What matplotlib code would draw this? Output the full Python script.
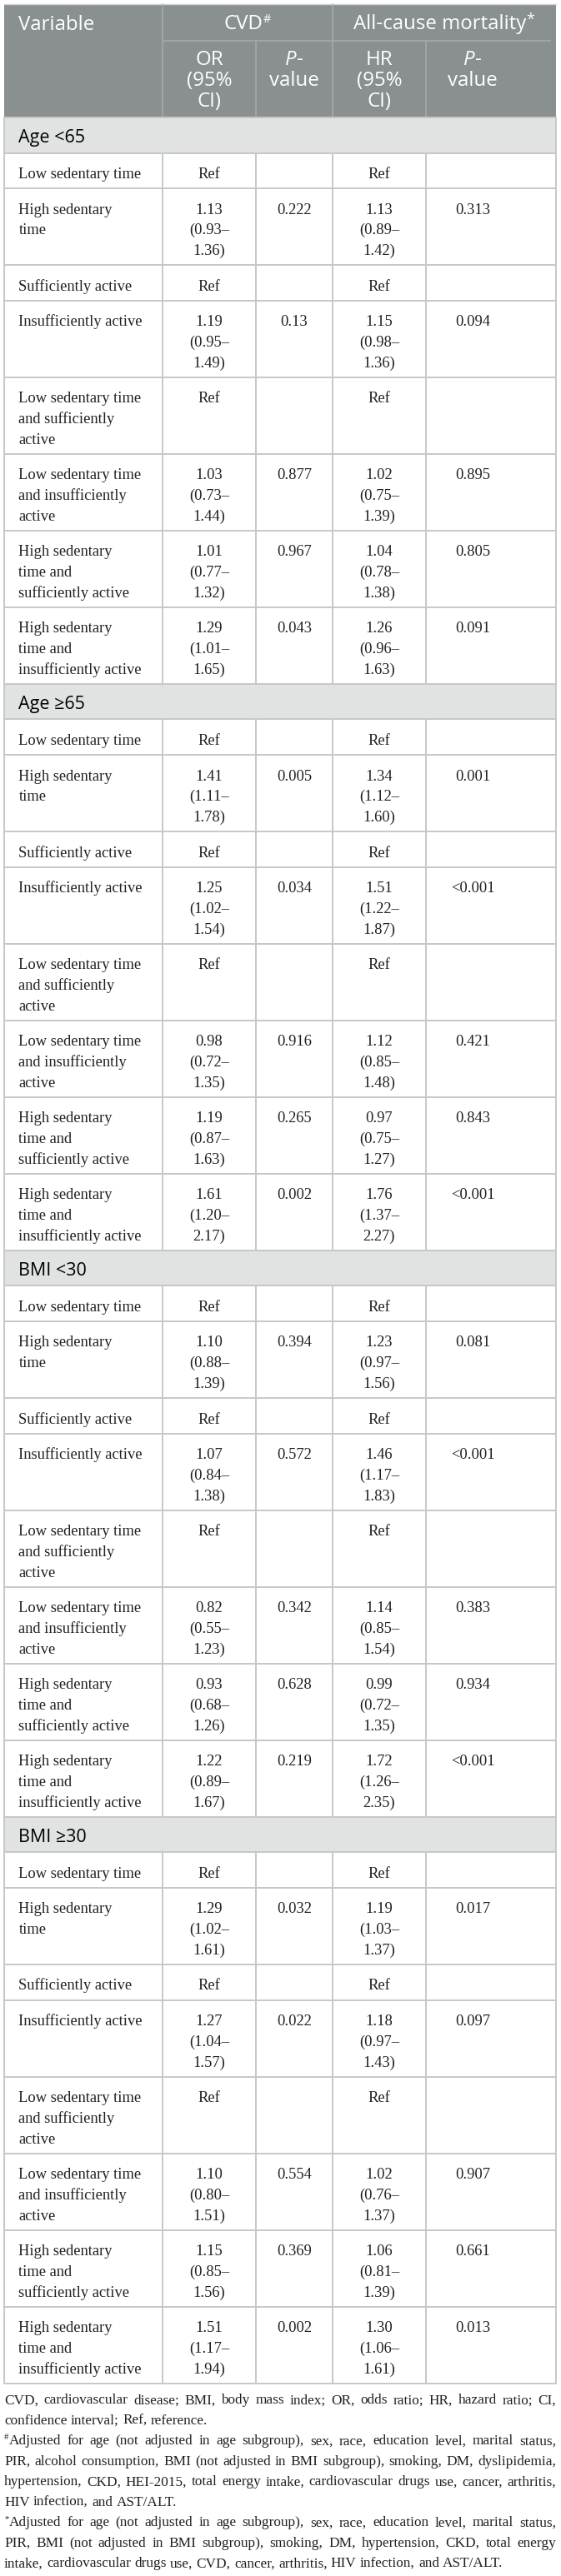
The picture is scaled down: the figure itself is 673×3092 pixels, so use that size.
import matplotlib.pyplot as plt
from matplotlib.patches import Rectangle

# ---------------- data ----------------
groups = ["Age <65", "Age \u226565", "BMI <30", "BMI \u226530"]

variables = ["Low sedentary time",
             "High sedentary\ntime",
             "Sufficiently active",
             "Insufficiently active",
             "Low sedentary time\nand sufficiently\nactive",
             "Low sedentary time\nand insufficiently\nactive",
             "High sedentary\ntime and\nsufficiently active",
             "High sedentary\ntime and\ninsufficiently active"]

# CVD odds ratios (None = Ref)
or_est = [[None, 1.13, None, 1.19, None, 1.03, 1.01, 1.29],
          [None, 1.41, None, 1.25, None, 0.98, 1.19, 1.61],
          [None, 1.10, None, 1.07, None, 0.82, 0.93, 1.22],
          [None, 1.29, None, 1.27, None, 1.10, 1.15, 1.51]]
or_lo = [[None, 0.93, None, 0.95, None, 0.73, 0.77, 1.01],
         [None, 1.11, None, 1.02, None, 0.72, 0.87, 1.20],
         [None, 0.88, None, 0.84, None, 0.55, 0.68, 0.89],
         [None, 1.02, None, 1.04, None, 0.80, 0.85, 1.17]]
or_hi = [[None, 1.36, None, 1.49, None, 1.44, 1.32, 1.65],
         [None, 1.78, None, 1.54, None, 1.35, 1.63, 2.17],
         [None, 1.39, None, 1.38, None, 1.23, 1.26, 1.67],
         [None, 1.61, None, 1.57, None, 1.51, 1.56, 1.94]]
or_p = [["", "0.222", "", "0.13", "", "0.877", "0.967", "0.043"],
        ["", "0.005", "", "0.034", "", "0.916", "0.265", "0.002"],
        ["", "0.394", "", "0.572", "", "0.342", "0.628", "0.219"],
        ["", "0.032", "", "0.022", "", "0.554", "0.369", "0.002"]]

# all-cause mortality hazard ratios
hr_est = [[None, 1.13, None, 1.15, None, 1.02, 1.04, 1.26],
          [None, 1.34, None, 1.51, None, 1.12, 0.97, 1.76],
          [None, 1.23, None, 1.46, None, 1.14, 0.99, 1.72],
          [None, 1.19, None, 1.18, None, 1.02, 1.06, 1.30]]
hr_lo = [[None, 0.89, None, 0.98, None, 0.75, 0.78, 0.96],
         [None, 1.12, None, 1.22, None, 0.85, 0.75, 1.37],
         [None, 0.97, None, 1.17, None, 0.85, 0.72, 1.26],
         [None, 1.03, None, 0.97, None, 0.76, 0.81, 1.06]]
hr_hi = [[None, 1.42, None, 1.36, None, 1.39, 1.38, 1.63],
         [None, 1.60, None, 1.87, None, 1.48, 1.27, 2.27],
         [None, 1.56, None, 1.83, None, 1.54, 1.35, 2.35],
         [None, 1.37, None, 1.43, None, 1.37, 1.39, 1.61]]
hr_p = [["", "0.313", "", "0.094", "", "0.895", "0.805", "0.091"],
        ["", "0.001", "", "<0.001", "", "0.421", "0.843", "<0.001"],
        ["", "0.081", "", "<0.001", "", "0.383", "0.934", "<0.001"],
        ["", "0.017", "", "0.097", "", "0.907", "0.661", "0.013"]]

footnotes = [
    ("", ["CVD, cardiovascular disease; BMI, body mass index; OR, odds ratio; HR, hazard ratio; CI,",
          "confidence interval; Ref, reference."]),
    ("#", ["Adjusted for age (not adjusted in age subgroup), sex, race, education level, marital status,",
           "PIR, alcohol consumption, BMI (not adjusted in BMI subgroup), smoking, DM, dyslipidemia,",
           "hypertension, CKD, HEI-2015, total energy intake, cardiovascular drugs use, cancer, arthritis,",
           "HIV infection, and AST/ALT."]),
    ("*", ["Adjusted for age (not adjusted in age subgroup), sex, race, education level, marital status,",
           "PIR, BMI (not adjusted in BMI subgroup), smoking, DM, hypertension, CKD, total energy",
           "intake, cardiovascular drugs use, CVD, cancer, arthritis, HIV infection, and AST/ALT."]),
]

# ---------------- layout (pixels) ----------------
W, H = 673, 3092
X0, X1 = 5, 667                      # table left / right
cols = [5, 195, 307, 399, 511, 667]  # column borders
cx = [251, 353, 455, 567]            # text centres of value columns
xlab = 22.5                          # left of variable text
top, hdr_mid, hdr_bot = 4.5, 49, 141
pad, lh = 17.8, 24.75                # row padding, line height
base_off = 30.5                      # baseline offset from row top

hdr_bg = "#8a8f92"
hdr_line = "#a4a9ac"
grp_bg = "#e1e3e3"
grid = "#c6c8c8"
ink = "#231f20"

sans = "Open Sans"
serif = "Liberation Serif"
f_hdr = 17.3
f_grp = 15.5
f_body = 13.3
f_note = 12.4

def px(pt):
    return pt / 0.72

fig = plt.figure(figsize=(W / 100, H / 100), dpi=100)
ax = fig.add_axes([0, 0, 1, 1])
ax.set_xlim(0, W)
ax.set_ylim(H, 0)
ax.axis('off')
r = fig.canvas.get_renderer()

def put(x, y, parts, ha='left', **kw):
    # parts: list of (string, size, style, dy)
    objs, widths = [], []
    for s, size, style, dy in parts:
        t = ax.text(0, y + dy, s, fontsize=size, fontstyle=style, va='baseline', **kw)
        objs.append(t)
        widths.append(t.get_window_extent(renderer=r).width)
    x0 = x - sum(widths) / 2 if ha == 'center' else x
    for t, w in zip(objs, widths):
        t.set_x(x0)
        x0 += w
    return sum(widths)

# ---------------- header ----------------
ax.add_patch(Rectangle((X0, top), X1 - X0, hdr_bot - top, color=hdr_bg, lw=0, zorder=0))
ax.plot([cols[1], cols[1]], [top, hdr_bot], color=hdr_line, lw=1.2)
ax.plot([cols[3], cols[3]], [top, hdr_bot], color=hdr_line, lw=1.2)
ax.plot([cols[2], cols[2]], [hdr_mid, hdr_bot], color=hdr_line, lw=1.2)
ax.plot([cols[4], cols[4]], [hdr_mid, hdr_bot], color=hdr_line, lw=1.2)
ax.plot([cols[1], 660], [hdr_mid, hdr_mid], color=hdr_line, lw=1.2)

hk = dict(color='white', family=sans)
put(xlab, 36, [("Variable", f_hdr, 'normal', 0)], **hk)
put(297, 35, [("CVD", f_hdr, 'normal', 0), ("#", f_hdr * 0.6, 'normal', -8)], ha='center', **hk)
put(533, 35, [("All-cause mortality", f_hdr, 'normal', 0), ("*", f_hdr * 0.75, 'normal', -6)],
    ha='center', **hk)
for c, name in [(0, "OR"), (2, "HR")]:
    for k, s in enumerate([name, "(95%", "CI)"]):
        put(cx[c], 78 + 25 * k, [(s, f_hdr, 'normal', 0)], ha='center', **hk)
for c in [1, 3]:
    put(cx[c], 78, [("P", f_hdr, 'italic', 0), ("-", f_hdr, 'normal', 0)], ha='center', **hk)
    put(cx[c], 103, [("value", f_hdr, 'normal', 0)], ha='center', **hk)

# ---------------- body ----------------
def ci_text(e, lo, hi):
    if e is None:
        return "Ref"
    return "%.2f\n(%.2f\u2013\n%.2f)" % (e, lo, hi)

bk = dict(color=ink, family=serif)
y = hdr_bot
hlines = [top, hdr_bot]
for g, gname in enumerate(groups):
    h = pad + lh
    ax.add_patch(Rectangle((X0, y), X1 - X0, h, color=grp_bg, lw=0, zorder=0))
    put(xlab, y + 29.7, [(gname, f_grp, 'normal', 0)], color='black', family=sans)
    y += h
    hlines.append(y)
    for i, var in enumerate(variables):
        cells = [ci_text(or_est[g][i], or_lo[g][i], or_hi[g][i]), or_p[g][i],
                 ci_text(hr_est[g][i], hr_lo[g][i], hr_hi[g][i]), hr_p[g][i]]
        nl = max([var.count("\n") + 1] + [c.count("\n") + 1 for c in cells])
        h = pad + lh * nl
        for k, line in enumerate(var.split("\n")):
            put(xlab, y + base_off + lh * k, [(line, f_body, 'normal', 0)], **bk)
        for c, cell in enumerate(cells):
            for k, line in enumerate(cell.split("\n")):
                if line:
                    put(cx[c], y + base_off + lh * k, [(line, f_body, 'normal', 0)], ha='center', **bk)
        for xc in cols[1:5]:
            ax.plot([xc, xc], [y, y + h], color=grid, lw=1.4)
        y += h
        hlines.append(y)
table_bot = y

for yy in hlines[1:]:
    ax.plot([X0, X1], [yy, yy], color=grid, lw=1.4)
ax.plot([X0, X1], [top, top], color="#cfd1d2", lw=1.0)
ax.plot([X0, X0], [hdr_bot, table_bot], color=grid, lw=1.4)
ax.plot([X1, X1], [hdr_bot, table_bot], color=grid, lw=1.4)

# ---------------- footnotes (justified) ----------------
nk = dict(color=ink, family=serif)
yb = table_bot + 24.6
for mark, lines in footnotes:
    for n, line in enumerate(lines):
        xs = X0
        if n == 0 and mark:
            xs += put(X0, yb, [(mark, f_note * 0.62, 'normal', -6)], **nk)
        words = line.split(" ")
        last = n == len(lines) - 1
        size = f_note
        while True:
            space = px(size) * 0.25
            objs = [ax.text(0, yb, w_, fontsize=size, va='baseline', **nk) for w_ in words]
            ws = [t.get_window_extent(renderer=r).width for t in objs]
            if last or sum(ws) + 0.8 * space * (len(words) - 1) <= X1 - xs or size < 9:
                break
            for t in objs:
                t.remove()
            size -= 0.2
        gap = space if last else (X1 - xs - sum(ws)) / (len(words) - 1)
        for t, w_ in zip(objs, ws):
            t.set_x(xs)
            xs += w_ + gap
        yb += 24.5

fig.savefig("out.png", dpi=100, facecolor='white')
